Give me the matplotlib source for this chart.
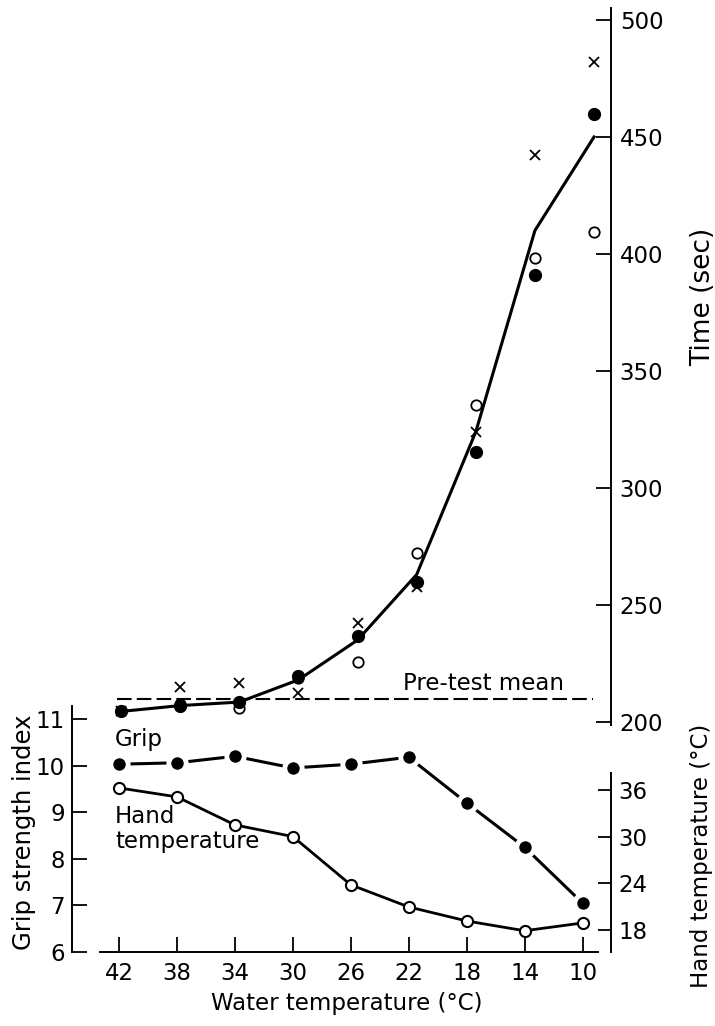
import matplotlib
matplotlib.use("Agg")
import matplotlib.pyplot as plt

# ---------------- DATA ----------------

water_temp = [42, 38, 34, 30, 26, 22, 18, 14, 10]

# top panel: time (sec), three symbol series + mean line
time_filled = [204.5, 206.8, 208.5, 219.7, 236.8, 259.8, 315.4, 391.0, 459.8]
time_open = [204.5, 207.7, 206.0, 219.0, 225.6, 272.2, 335.5, 398.3, 409.4]
time_cross = [204.5, 215.0, 216.7, 212.4, 242.3, 257.7, 323.9, 442.3, 482.0]
time_mean = [204.5, 207.0, 208.5, 218.0, 235.0, 263.0, 324.0, 410.0, 450.0]
pretest_mean = 209.8

# bottom panel
grip_index = [10.03, 10.06, 10.20, 9.95, 10.03, 10.18, 9.20, 8.25, 7.05]
hand_temp = [36.25, 35.1, 31.5, 30.0, 23.8, 20.96, 19.16, 17.9, 18.9]

time_ticks = [200, 250, 300, 350, 400, 450, 500]
grip_ticks = [6, 7, 8, 9, 10, 11]
hand_ticks = [18, 24, 30, 36]

# ---------------- STYLE ----------------

plt.rcParams["font.family"] = "DejaVu Sans"
FS = 16.5
LW_SPINE = 1.4
LW_DATA = 2.2

fig = plt.figure(figsize=(7.15, 10.26), dpi=100)

ax_t = fig.add_axes([0.1007, 0.29337, 0.7545, 0.6988])
ax_g = fig.add_axes([0.1007, 0.07212, 0.7545, 0.24981])
ax_h = ax_g.twinx()
for a in (ax_t, ax_g, ax_h):
    a.patch.set_visible(False)

# ---- top: time ----
ax_t.set_xlim(45.32, 8.82)
ax_t.set_ylim(198.7, 505.1)
for s in ("left", "top", "bottom"):
    ax_t.spines[s].set_visible(False)
ax_t.spines["right"].set_linewidth(LW_SPINE)
ax_t.set_xticks([])
ax_t.yaxis.tick_right()
ax_t.set_yticks(time_ticks)
ax_t.tick_params(axis="y", direction="in", length=10.5, width=1.3,
                 labelsize=FS, pad=6)

ax_t.plot(water_temp, time_mean, color="k", lw=LW_DATA, zorder=2)
ax_t.plot(water_temp, time_open, "o", ms=7.5, mfc="white", mec="k",
          mew=1.3, zorder=3, clip_on=False)
ax_t.plot(water_temp, time_filled, "o", ms=8.5, mfc="k", mec="k",
          zorder=3.5, clip_on=False)
ax_t.plot(water_temp, time_cross, "x", ms=7, mec="k", mew=1.3,
          zorder=4, clip_on=False)
ax_t.axhline(pretest_mean, xmin=0.083, xmax=0.966, color="k", lw=1.5,
             ls=(0, (7, 2.5)), zorder=1)
ax_t.text(22.93, 213.7, "Pre-test mean", fontsize=FS, va="baseline",
          ha="left")

# ---- bottom: grip + hand temperature ----
ax_g.set_xlim(45.25, 8.0)
ax_g.set_ylim(6, 11.5)
ax_h.set_ylim(15.17, 48.1)

ax_g.spines["top"].set_visible(False)
ax_g.spines["right"].set_visible(False)
ax_g.spines["left"].set_bounds(6, 11.27)
ax_g.spines["bottom"].set_bounds(43.3, 8.95)
for s in ("left", "bottom"):
    ax_g.spines[s].set_linewidth(LW_SPINE)
for s in ("left", "top", "bottom"):
    ax_h.spines[s].set_visible(False)
ax_h.spines["right"].set_bounds(15.17, 38.2)
ax_h.spines["right"].set_linewidth(LW_SPINE)

ax_g.set_xticks(water_temp)
ax_g.set_yticks(grip_ticks)
ax_g.tick_params(axis="x", direction="in", length=10.5, width=1.3,
                 labelsize=FS, pad=7)
ax_g.tick_params(axis="y", direction="in", length=10.5, width=1.3,
                 labelsize=FS, pad=5)
ax_h.set_yticks(hand_ticks)
ax_h.tick_params(axis="y", direction="in", length=9.5, width=1.3,
                 labelsize=FS, pad=5)

ax_g.plot(water_temp, grip_index, "-o", color="k", lw=LW_DATA, ms=12.5,
          mfc="k", mec="white", mew=3.5, zorder=3)
ax_h.plot(water_temp, hand_temp, "-o", color="k", lw=2.0, ms=8,
          mfc="white", mec="k", mew=1.5, zorder=3)

ax_g.text(42.28, 10.55, "Grip", fontsize=FS, ha="left", va="center")
ax_g.text(42.28, 8.64, "Hand\ntemperature", fontsize=FS, ha="left",
          va="center", linespacing=1.15)

# ---- axis titles ----
fig.text(0.4853, 0.0224, "Water temperature (°C)", fontsize=FS,
         ha="center", va="center")
fig.text(0.0336, 0.1891, "Grip strength index", fontsize=FS + 1,
         ha="center", va="center", rotation=90)
fig.text(0.9832, 0.7105, "Time (sec)", fontsize=FS + 2.5,
         ha="center", va="center", rotation=90)
fig.text(0.9818, 0.1657, "Hand temperature (°C)", fontsize=FS,
         ha="center", va="center", rotation=90)

fig.savefig("out.png", dpi=100)
plt.close(fig)
